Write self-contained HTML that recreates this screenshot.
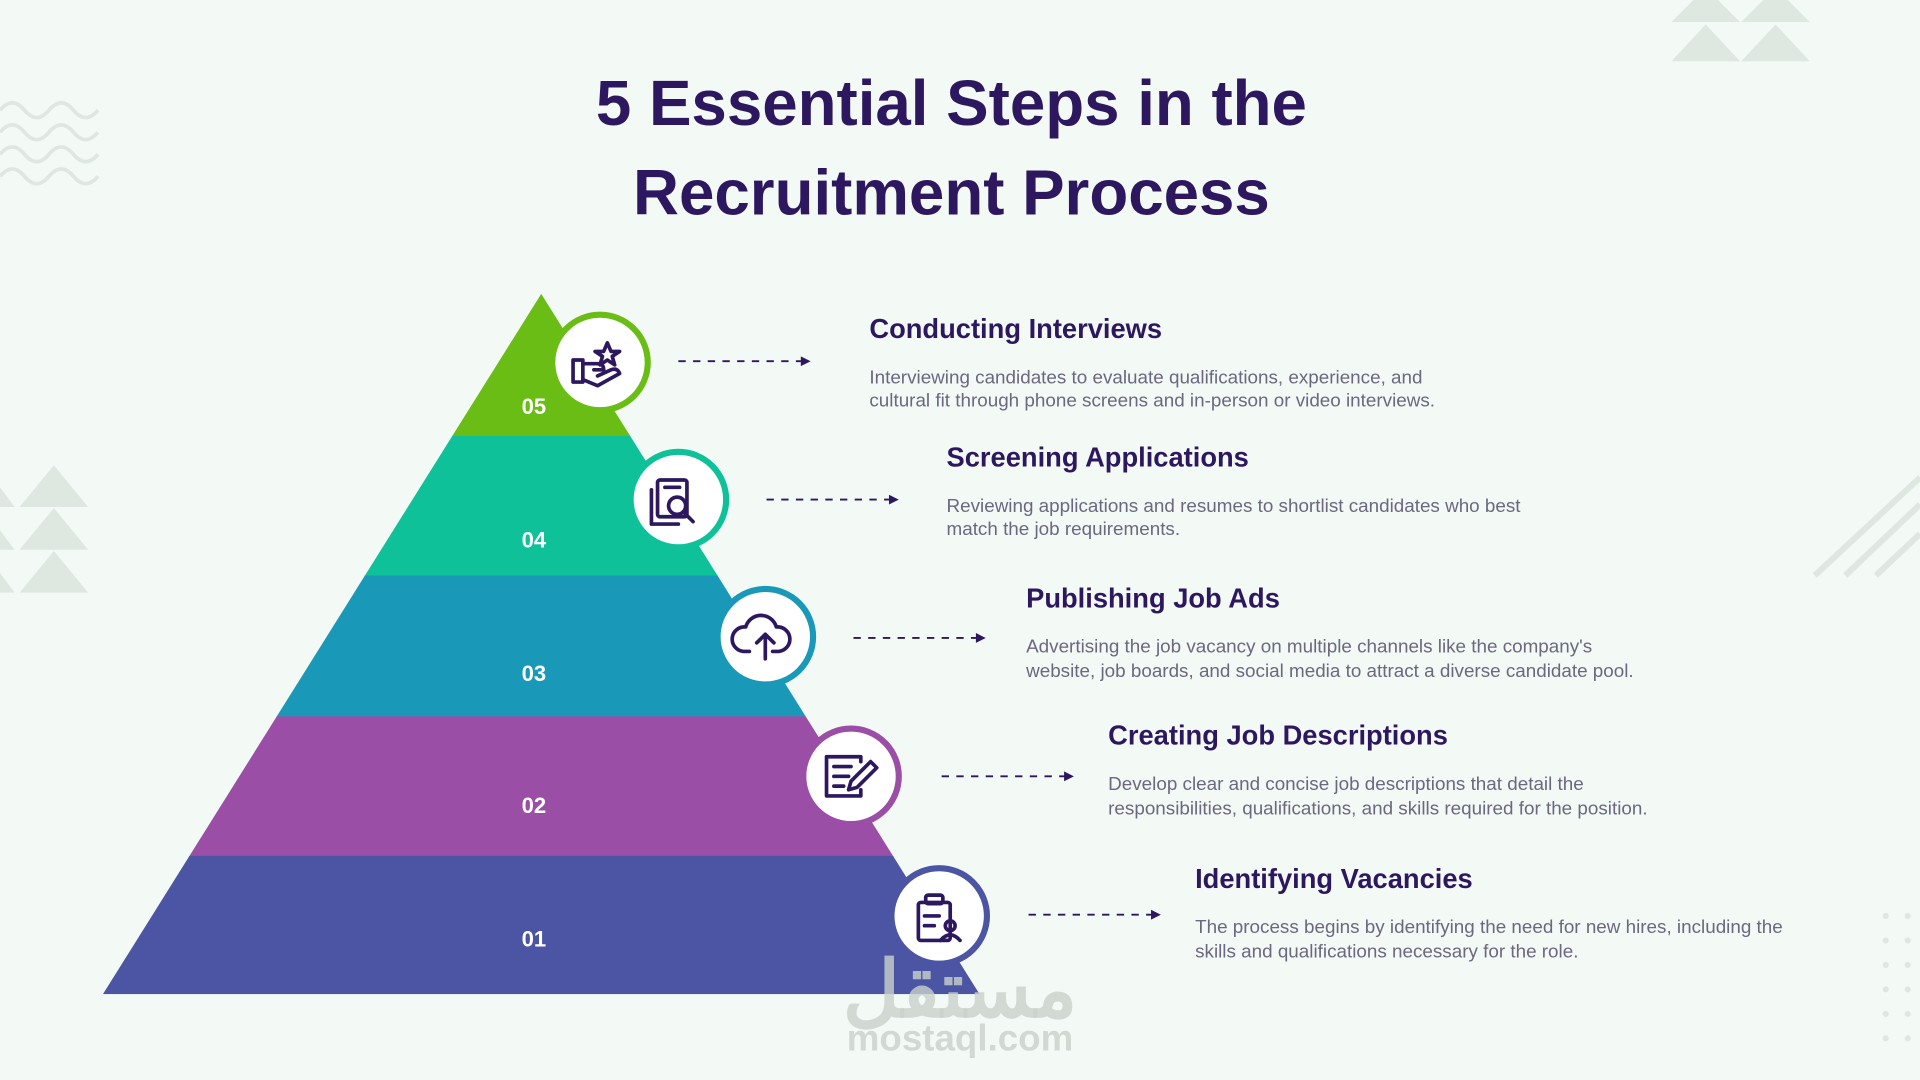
<!DOCTYPE html>
<html><head><meta charset="utf-8"><style>
html,body{margin:0;padding:0;width:1920px;height:1080px;overflow:hidden;background:#f3f9f5}
svg{display:block}
.t{font-family:"Liberation Sans",sans-serif;font-weight:bold;fill:#2d1860}
.d{font-family:"Liberation Sans",sans-serif;font-size:15.4px;fill:#6b6880}
.n{font-family:"Liberation Sans",sans-serif;font-weight:bold;font-size:18px;fill:#fff}
</style></head><body>
<svg width="1920" height="1080" viewBox="0 0 1568 882" xmlns="http://www.w3.org/2000/svg">
<rect width="1568" height="882" fill="#f3f9f5"/>
<g fill="#dfe7e1">
<polygon points="1365,18 1393,-10 1421,18"/><polygon points="1422,18 1450,-10 1478,18"/>
<polygon points="1365,50 1393,20 1421,50"/><polygon points="1422,50 1450,20 1478,50"/>
<polygon points="16,414 44,380 72,414"/><polygon points="16,449 44,415 72,449"/><polygon points="16,484 44,450 72,484"/>
<polygon points="-12,414 0,398 12,414"/><polygon points="-12,449 0,433 12,449"/><polygon points="-12,484 0,468 12,484"/>
</g>
<g fill="none" stroke="#dfe7e1" stroke-width="3">
<path d="M0,90 q10,-12 20,0 t20,0 t20,0 t20,0"/><path d="M0,108 q10,-12 20,0 t20,0 t20,0 t20,0"/>
<path d="M0,126 q10,-12 20,0 t20,0 t20,0 t20,0"/><path d="M0,144 q10,-12 20,0 t20,0 t20,0 t20,0"/>
<path d="M1482,470 L1568,390" stroke-width="5"/><path d="M1507,470 L1568,412" stroke-width="5"/><path d="M1532,470 L1568,436" stroke-width="5"/>
</g>
<g fill="#dfe7e1">
<circle cx="1540" cy="748" r="2.5"/><circle cx="1558" cy="748" r="2.5"/><circle cx="1540" cy="768" r="2.5"/><circle cx="1558" cy="768" r="2.5"/>
<circle cx="1540" cy="788" r="2.5"/><circle cx="1558" cy="788" r="2.5"/><circle cx="1540" cy="808" r="2.5"/><circle cx="1558" cy="808" r="2.5"/>
<circle cx="1540" cy="828" r="2.5"/><circle cx="1558" cy="828" r="2.5"/><circle cx="1540" cy="848" r="2.5"/><circle cx="1558" cy="848" r="2.5"/>
</g>
<text class="t" x="777" y="102" font-size="52" text-anchor="middle">5 Essential Steps in the</text>
<text class="t" x="777" y="175" font-size="52" text-anchor="middle">Recruitment Process</text>
<defs><clipPath id="p"><polygon points="442,240 84,812 800,812"/></clipPath></defs>
<g clip-path="url(#p)">
<rect x="0" y="240" width="900" height="117" fill="#6abd15"/>
<rect x="0" y="356" width="900" height="115" fill="#0fc199"/>
<rect x="0" y="470" width="900" height="116" fill="#1a98b8"/>
<rect x="0" y="585" width="900" height="115" fill="#9b4ea6"/>
<rect x="0" y="699" width="900" height="113" fill="#4b55a3"/>
</g>
<text class="n" x="436" y="338" text-anchor="middle">05</text>
<text class="n" x="436" y="447" text-anchor="middle">04</text>
<text class="n" x="436" y="556" text-anchor="middle">03</text>
<text class="n" x="436" y="664" text-anchor="middle">02</text>
<text class="n" x="436" y="773" text-anchor="middle">01</text>
<g fill="#fff" stroke-width="5">
<circle cx="490" cy="296" r="39" stroke="#6abd15"/>
<circle cx="554" cy="408" r="39" stroke="#0fc199"/>
<circle cx="625" cy="520" r="39" stroke="#1a98b8"/>
<circle cx="695" cy="634" r="39" stroke="#9b4ea6"/>
<circle cx="767" cy="748" r="39" stroke="#4b55a3"/>
</g>
<g fill="none" stroke="#2d1860" stroke-width="3" stroke-linejoin="round" stroke-linecap="round">
<rect x="468" y="294" width="8" height="18"/><path d="M476,297 h12 q5,0 5,5 h-8 M476,310 l12,5 l18,-10 q-2,-5 -7,-3 l-11,5"/>
<polygon points="496,280 499,287 506,287 500,291 502,298 496,294 490,298 492,291 486,287 493,287"/>
<rect x="537" y="392" width="24" height="30" rx="2"/><path d="M532,400 v28 h22"/><circle cx="553" cy="413" r="7"/><path d="M558,418 l8,8 M543,398 h12"/>
<path d="M612,532 h-5 a10,10 0 0 1 2,-20 a13,13 0 0 1 25,0 a10,10 0 0 1 2,20 h-5"/><path d="M625,538 v-20 M618,525 l7,-7 l7,7"/>
<path d="M703,645 v5 h-28 v-32 h28 v4"/><path d="M681,626 h14 M681,634 h12 M681,642 h8"/><path d="M711,622 l5,5 l-16,16 l-7,2 l2,-7 z"/>
<rect x="750" y="737" width="26" height="31" rx="2"/><rect x="756" y="731" width="14" height="7" rx="2"/><path d="M755,748 h12 M755,756 h8"/><circle cx="776" cy="756" r="4"/><path d="M768,768 q8,-9 16,0"/>
</g>
<g stroke="#2d1860" stroke-width="1.5" stroke-dasharray="6,6" fill="none">
<path d="M554,295 h101"/><path d="M626,408 h101"/><path d="M697,521 h101"/><path d="M769,634 h101"/><path d="M840,747 h101"/>
</g>
<g fill="#2d1860">
<polygon points="662,295 654,291 654,299"/><polygon points="734,408 726,404 726,412"/><polygon points="805,521 797,517 797,525"/><polygon points="877,634 869,630 869,638"/><polygon points="948,747 940,743 940,751"/>
</g>
<text class="t" x="710" y="276" font-size="22.3">Conducting Interviews</text>
<text class="d" x="710" y="313">Interviewing candidates to evaluate qualifications, experience, and</text>
<text class="d" x="710" y="332">cultural fit through phone screens and in-person or video interviews.</text>
<text class="t" x="773" y="381" font-size="22.3">Screening Applications</text>
<text class="d" x="773" y="418">Reviewing applications and resumes to shortlist candidates who best</text>
<text class="d" x="773" y="437">match the job requirements.</text>
<text class="t" x="838" y="496" font-size="22.3">Publishing Job Ads</text>
<text class="d" x="838" y="533">Advertising the job vacancy on multiple channels like the company's</text>
<text class="d" x="838" y="553">website, job boards, and social media to attract a diverse candidate pool.</text>
<text class="t" x="905" y="608" font-size="22.3">Creating Job Descriptions</text>
<text class="d" x="905" y="645">Develop clear and concise job descriptions that detail the</text>
<text class="d" x="905" y="665">responsibilities, qualifications, and skills required for the position.</text>
<text class="t" x="976" y="725" font-size="22.3">Identifying Vacancies</text>
<text class="d" x="976" y="762">The process begins by identifying the need for new hires, including the</text>
<text class="d" x="976" y="782">skills and qualifications necessary for the role.</text>
<text x="784" y="858" text-anchor="middle" font-family="Liberation Sans,sans-serif" font-size="30" font-weight="bold" fill="#c9d1cb" fill-opacity="0.8">mostaql.com</text>
<text x="784" y="830" text-anchor="middle" font-family="Liberation Sans,'Noto Sans CJK SC',sans-serif" font-size="64" font-weight="bold" fill="#c9d1cb" fill-opacity="0.8">مستقل</text>
</svg>
</body></html>
